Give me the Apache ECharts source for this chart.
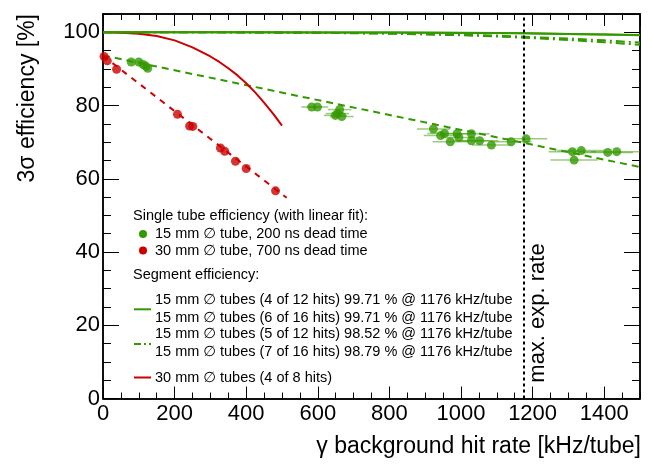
<!DOCTYPE html>
<html><head><meta charset="utf-8">
<script src="https://cdn.jsdelivr.net/npm/echarts@6/dist/echarts.min.js"></script>
<style>html,body{margin:0;padding:0;background:#fff}#c{width:654px;height:465px}</style>
</head><body><div id="c"></div>
<script>
// ---- data ----
const greenX    = [79, 100, 112, 120, 125, 583, 599, 649, 655, 661, 667, 923, 943, 954, 970, 989, 994, 1029, 1029, 1052, 1085, 1140, 1182, 1311, 1316, 1336, 1410, 1435];
const greenY    = [91.9, 91.9, 91.2, 90.7, 90.2, 79.6, 79.6, 77.3, 77.8, 78.9, 77.0, 73.6, 71.8, 72.4, 70.1, 72.3, 71.3, 72.3, 70.4, 70.4, 69.2, 70.1, 70.9, 67.4, 65.1, 67.7, 67.2, 67.4];
const greenXErr = [4, 5, 6, 6, 6, 29, 30, 32, 33, 33, 33, 46, 47, 48, 49, 49, 50, 51, 51, 53, 54, 57, 59, 66, 66, 67, 70, 72];
const redX = [3, 12, 38, 208, 242, 251, 328, 340, 370, 400, 482];
const redY = [93.4, 92.2, 89.9, 77.6, 74.4, 74.3, 68.4, 67.5, 64.8, 62.8, 56.7];
const greenFitX = [0, 1500];
const greenFitY = [93.7, 63.2];
const redFitX = [0, 513];
const redFitY = [93.6, 54.8];
const seg30X = [0, 50, 100, 150, 200, 250, 300, 325, 350, 375, 400, 425, 450, 475, 500];
const seg30Y = [100, 99.9, 99.6, 99.0, 97.8, 95.9, 93.4, 91.9, 90.2, 88.3, 86.1, 83.6, 80.8, 77.8, 74.5];
const segX = [0, 200, 400, 600, 800, 1000, 1100, 1176, 1300, 1400, 1500];
const seg4of12Y = [100, 100, 99.99, 99.97, 99.92, 99.84, 99.78, 99.71, 99.56, 99.42, 99.25];
const seg6of16Y = [100, 100, 99.99, 99.97, 99.93, 99.85, 99.79, 99.71, 99.55, 99.40, 99.20];
const seg5of12Y = [100, 100, 99.97, 99.86, 99.62, 99.2, 98.88, 98.52, 97.9, 97.3, 96.6];
const seg7of16Y = [100, 100, 99.98, 99.9, 99.7, 99.35, 99.1, 98.79, 98.3, 97.8, 97.2];
const maxExpRate = 1176;
const xTicks = [0, 200, 400, 600, 800, 1000, 1200, 1400];
const yTicks = [0, 20, 40, 60, 80, 100];
const legendTexts = {
  head1: 'Single tube efficiency (with linear fit):',
  g: '15 mm \u2205 tube, 200 ns dead time',
  r: '30 mm \u2205 tube, 700 ns dead time',
  head2: 'Segment efficiency:',
  s1: '15 mm \u2205 tubes (4 of 12 hits) 99.71 % @ 1176 kHz/tube',
  s2: '15 mm \u2205 tubes (6 of 16 hits) 99.71 % @ 1176 kHz/tube',
  s3: '15 mm \u2205 tubes (5 of 12 hits) 98.52 % @ 1176 kHz/tube',
  s4: '15 mm \u2205 tubes (7 of 16 hits) 98.79 % @ 1176 kHz/tube',
  s5: '30 mm \u2205 tubes (4 of 8 hits)'
};

const GREEN = '#339900', RED = '#cc0000';
const FONT = '"Liberation Sans", Arial, Helvetica, "DejaVu Sans", sans-serif';
const zip = (xs, ys) => xs.map((x, i) => [x, ys[i]]);

const chart = echarts.init(document.getElementById('c'), null, {renderer: 'canvas'});
const gridRect = {left: 103, right: 14, top: 14, bottom: 66.5};

function xAx(grid, pos, interval, len, labels) {
  return {
    type: 'value', gridIndex: grid, position: pos, min: 0, max: 1500, interval: interval,
    axisLine: {show: true, onZero: false, lineStyle: {color: '#000', width: 1.5}},
    axisTick: {show: true, inside: true, length: len, lineStyle: {color: '#000', width: 1}},
    axisLabel: {show: labels, fontSize: 22, color: '#000', fontFamily: FONT, margin: 4, showMaxLabel: false,
      formatter: v => xTicks.includes(v) ? String(v) : ''},
    splitLine: {show: false}
  };
}
function yAx(grid, pos, interval, len, labels) {
  return {
    type: 'value', gridIndex: grid, position: pos, min: 0, max: 105, interval: interval,
    axisLine: {show: true, onZero: false, lineStyle: {color: '#000', width: 1.5}},
    axisTick: {show: true, inside: true, length: len, lineStyle: {color: '#000', width: 1}},
    axisLabel: {show: labels, fontSize: 22, color: '#000', fontFamily: FONT, margin: 3, showMaxLabel: false,
      formatter: v => yTicks.includes(v) ? String(v) : ''},
    splitLine: {show: false}
  };
}

const lineS = (data, color, type) => ({
  type: 'line', xAxisIndex: 0, yAxisIndex: 0, data: data, showSymbol: false, symbol: 'none',
  smooth: false, lineStyle: {color: color, width: 2, type: type}, z: 2, silent: true
});

const T = (text, x, y, extra) => ({type: 'text', style: Object.assign({text: text, x: x, y: y, fill: '#000', font: '14.5px ' + FONT, verticalAlign: 'middle', align: 'left'}, extra || {})});

chart.setOption({
  animation: false,
  backgroundColor: '#fff',
  grid: [Object.assign({}, gridRect), Object.assign({}, gridRect)],
  xAxis: [xAx(0, 'bottom', 200, 12, true), xAx(0, 'top', 200, 12, false), xAx(1, 'bottom', 50, 6, false), xAx(1, 'top', 50, 6, false)],
  yAxis: [yAx(0, 'left', 20, 16, true), yAx(0, 'right', 20, 16, false), yAx(1, 'left', 5, 8, false), yAx(1, 'right', 5, 8, false)],
  series: [
    lineS(zip(greenFitX, greenFitY), GREEN, [7, 5]),
    lineS(zip(redFitX, redFitY), RED, [6, 6]),
    lineS(zip(seg30X, seg30Y), RED, 'solid'),
    lineS(zip(segX, seg5of12Y), GREEN, [9, 4, 2, 4]),
    lineS(zip(segX, seg7of16Y), GREEN, [9, 4, 2, 4]),
    lineS(zip(segX, seg4of12Y), GREEN, 'solid'),
    lineS(zip(segX, seg6of16Y), GREEN, 'solid'),
    {
      type: 'custom', xAxisIndex: 0, yAxisIndex: 0, silent: true, z: 3,
      data: greenX.map((x, i) => [x, greenY[i], greenXErr[i]]),
      renderItem: (params, api) => {
        const x = api.value(0), y = api.value(1), e = api.value(2);
        const p1 = api.coord([Math.max(0, x - e), y]), p2 = api.coord([Math.min(1500, x + e), y]);
        return {type: 'line', shape: {x1: p1[0], y1: p1[1], x2: p2[0], y2: p2[1]}, style: {stroke: GREEN, lineWidth: 1.5, opacity: 0.5}};
      }
    },
    {type: 'scatter', xAxisIndex: 0, yAxisIndex: 0, data: zip(greenX, greenY), symbolSize: 9, itemStyle: {color: GREEN}, z: 4},
    {type: 'scatter', xAxisIndex: 0, yAxisIndex: 0, data: zip(redX, redY), symbolSize: 9, itemStyle: {color: RED}, z: 4},
    lineS([[maxExpRate, 0], [maxExpRate, 105]], '#000', [3, 3])
  ],
  graphic: [
    T(legendTexts.head1, 133, 216),
    {type: 'circle', shape: {cx: 143, cy: 234, r: 4}, style: {fill: GREEN}},
    T(legendTexts.g, 155, 234),
    {type: 'circle', shape: {cx: 143, cy: 250.5, r: 4}, style: {fill: RED}},
    T(legendTexts.r, 155, 250.5),
    T(legendTexts.head2, 133, 275),
    {type: 'line', shape: {x1: 134, y1: 309.3, x2: 151, y2: 309.3}, style: {stroke: GREEN, lineWidth: 2}},
    T(legendTexts.s1, 155, 299.5),
    T(legendTexts.s2, 155, 318),
    {type: 'line', shape: {x1: 134, y1: 344, x2: 151, y2: 344}, style: {stroke: GREEN, lineWidth: 2, lineDash: [7, 3, 2, 3]}},
    T(legendTexts.s3, 155, 333.5),
    T(legendTexts.s4, 155, 352),
    {type: 'line', shape: {x1: 134, y1: 377.5, x2: 151, y2: 377.5}, style: {stroke: RED, lineWidth: 2}},
    T(legendTexts.s5, 155, 377.5),
    {type: 'text', x: 538, y: 313, rotation: Math.PI / 2, style: {text: 'max. exp. rate', font: '22px ' + FONT, fill: '#000', align: 'center', verticalAlign: 'middle'}},
    {type: 'text', x: 28, y: 14, rotation: Math.PI / 2, style: {text: '3\u03c3 efficiency [%]', font: '23px ' + FONT, fill: '#000', align: 'right', verticalAlign: 'middle'}},
    {type: 'text', style: {text: '\u03b3 background hit rate [kHz/tube]', x: 641, y: 447, font: '23px ' + FONT, fill: '#000', align: 'right', verticalAlign: 'middle'}}
  ]
});
</script>
</body></html>
